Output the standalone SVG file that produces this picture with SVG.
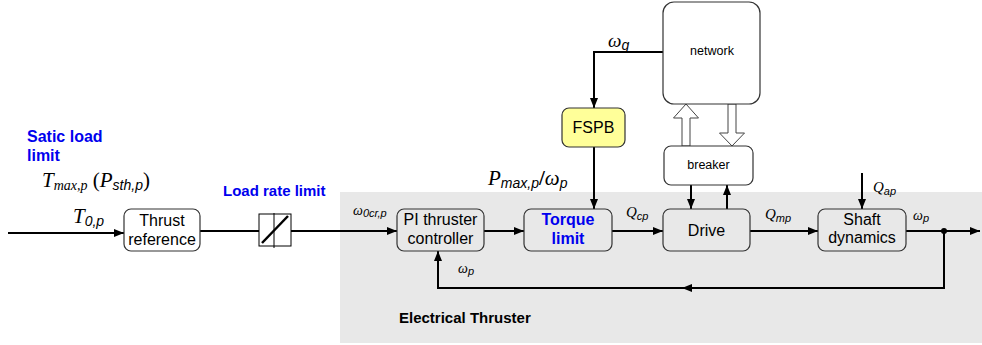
<svg xmlns="http://www.w3.org/2000/svg" width="982" height="345" viewBox="0 0 982 345">
<defs>
<marker id="ah" viewBox="0 0 10 8" refX="10" refY="4" markerWidth="10" markerHeight="8" markerUnits="userSpaceOnUse" orient="auto">
<path d="M0,0 L10,4 L0,8 Z" fill="#000"/>
</marker>
</defs>
<style>
.box{fill:none;stroke:#333;stroke-width:1.2}
.wbox{fill:#fff;stroke:#333;stroke-width:1.2}
.ln{fill:none;stroke:#000;stroke-width:2}
.lbl{font-family:"Liberation Sans",Arial,sans-serif;font-size:16px;fill:#000;text-anchor:middle}
.blbl{font-family:"Liberation Sans",Arial,sans-serif;font-size:16px;font-weight:bold;fill:#0000EE;text-anchor:middle}
.slbl{font-family:"Liberation Sans",Arial,sans-serif;font-size:12.5px;fill:#000;text-anchor:middle}
.blue{font-family:"Liberation Sans",Arial,sans-serif;font-weight:bold;fill:#0000EE}
.math{font-family:"Liberation Serif","Times New Roman",serif;font-style:italic;fill:#000}
.sub{font-family:"Liberation Sans",Arial,sans-serif;font-style:italic}
.hollow{fill:#fff;stroke:#444;stroke-width:1}
</style>
<rect x="340" y="192" width="642" height="151" fill="#E8E8E8"/>
<text x="27" y="142" class="blue" font-size="16">Satic load</text>
<text x="27" y="161" class="blue" font-size="16">limit</text>
<text x="223" y="196" class="blue" font-size="15">Load rate limit</text>
<text x="399" y="323" font-family="Liberation Sans,Arial,sans-serif" font-weight="bold" font-size="15">Electrical Thruster</text>
<text x="42" y="187" class="math" font-size="21">T<tspan font-size="14" dy="3">max,p</tspan><tspan dy="-3" font-style="normal"> (</tspan>P<tspan class="sub" font-size="14" dy="3">sth,p</tspan><tspan dy="-3" font-style="normal">)</tspan></text>
<text x="73" y="223" class="math" font-size="21">T<tspan class="sub" font-size="14" dy="3">0,p</tspan></text>
<text x="353" y="215" class="math" font-size="14">ω<tspan class="sub" font-size="11" dy="2">0cr,p</tspan></text>
<text x="488" y="185" class="math" font-size="21">P<tspan class="sub" font-size="14" dy="3">max,p</tspan><tspan dy="-3" font-weight="bold" font-style="normal">/</tspan>ω<tspan class="sub" font-size="14" dy="3">p</tspan></text>
<text x="626" y="217" class="math" font-size="15">Q<tspan class="sub" font-size="11" dy="3">cp</tspan></text>
<text x="765" y="219" class="math" font-size="15">Q<tspan class="sub" font-size="11" dy="3">mp</tspan></text>
<text x="873" y="192" class="math" font-size="15">Q<tspan class="sub" font-size="11" dy="3">ap</tspan></text>
<text x="913" y="220" class="math" font-size="14">ω<tspan class="sub" font-size="11" dy="2">p</tspan></text>
<text x="458" y="273" class="math" font-size="14">ω<tspan class="sub" font-size="11" dy="2">p</tspan></text>
<text x="608" y="47" class="math" font-size="19">ω<tspan class="sub" font-size="14" dy="3">g</tspan></text>
<g id="connectors">
<path class="ln" d="M8,233 H124" marker-end="url(#ah)"/>
<path class="ln" d="M200,231 H259"/>
<path class="ln" d="M291,231 H397" marker-end="url(#ah)"/>
<path class="ln" d="M484,231 H524" marker-end="url(#ah)"/>
<path class="ln" d="M612,231 H663" marker-end="url(#ah)"/>
<path class="ln" d="M750,231 H818" marker-end="url(#ah)"/>
<path class="ln" d="M906,231 H980" marker-end="url(#ah)"/>
<path class="ln" d="M862,173 V209" marker-end="url(#ah)"/>
<path class="ln" d="M663,52 H594 V108" marker-end="url(#ah)"/>
<path class="ln" d="M594,147 V209" marker-end="url(#ah)"/>
<path class="ln" d="M691,185 V209" marker-end="url(#ah)"/>
<path class="ln" d="M727,209 V185" marker-end="url(#ah)"/>
<path class="ln" d="M944,231 V288 H438 V251" marker-end="url(#ah)"/>
<path d="M682,288 L692,284 L692,292 Z" fill="#000"/>
<circle cx="944" cy="231" r="3" fill="#000"/>
<polygon class="hollow" points="682,146 682,118 673.5,118 686,104 698.5,118 690,118 690,146"/>
<polygon class="hollow" points="728,104 728,133 719.5,133 732,146 744.5,133 736,133 736,104"/>
</g>
<g id="thrust-reference">
<rect class="wbox" x="124" y="209" width="76" height="42" rx="7"/>
<text class="lbl" x="162" y="226">Thrust</text>
<text class="lbl" x="162" y="245">reference</text>
</g>
<g id="rate-limiter">
<rect x="259" y="214" width="32" height="32" fill="#fff" stroke="#000" stroke-width="1"/>
<line x1="274" y1="213" x2="274" y2="248" stroke="#000" stroke-width="1"/>
<line x1="262" y1="243" x2="288" y2="216" stroke="#000" stroke-width="2.5"/>
</g>
<g id="pi-controller">
<rect class="box" x="397" y="209" width="87" height="42" rx="7"/>
<text class="lbl" x="440.5" y="225">PI thruster</text>
<text class="lbl" x="440.5" y="244">controller</text>
</g>
<g id="torque-limit">
<rect class="box" x="524" y="209" width="88" height="42" rx="7"/>
<text class="blbl" x="568" y="225">Torque</text>
<text class="blbl" x="568" y="244">limit</text>
</g>
<g id="drive">
<rect class="box" x="663" y="209" width="87" height="42" rx="7"/>
<text class="lbl" x="706.5" y="236">Drive</text>
</g>
<g id="shaft-dynamics">
<rect class="box" x="818" y="209" width="88" height="42" rx="7"/>
<text class="lbl" x="862" y="225">Shaft</text>
<text class="lbl" x="862" y="243">dynamics</text>
</g>
<g id="fspb">
<rect x="562" y="108" width="63" height="39" rx="7" fill="#FFFF99" stroke="#333" stroke-width="1.2"/>
<text class="lbl" x="593.5" y="133">FSPB</text>
</g>
<g id="network">
<rect class="wbox" x="663" y="2" width="97" height="102" rx="11"/>
<text class="slbl" x="712" y="55">network</text>
</g>
<g id="breaker">
<rect class="wbox" x="664" y="146" width="89" height="39" rx="7"/>
<text class="slbl" x="708.5" y="169">breaker</text>
</g>
</svg>
